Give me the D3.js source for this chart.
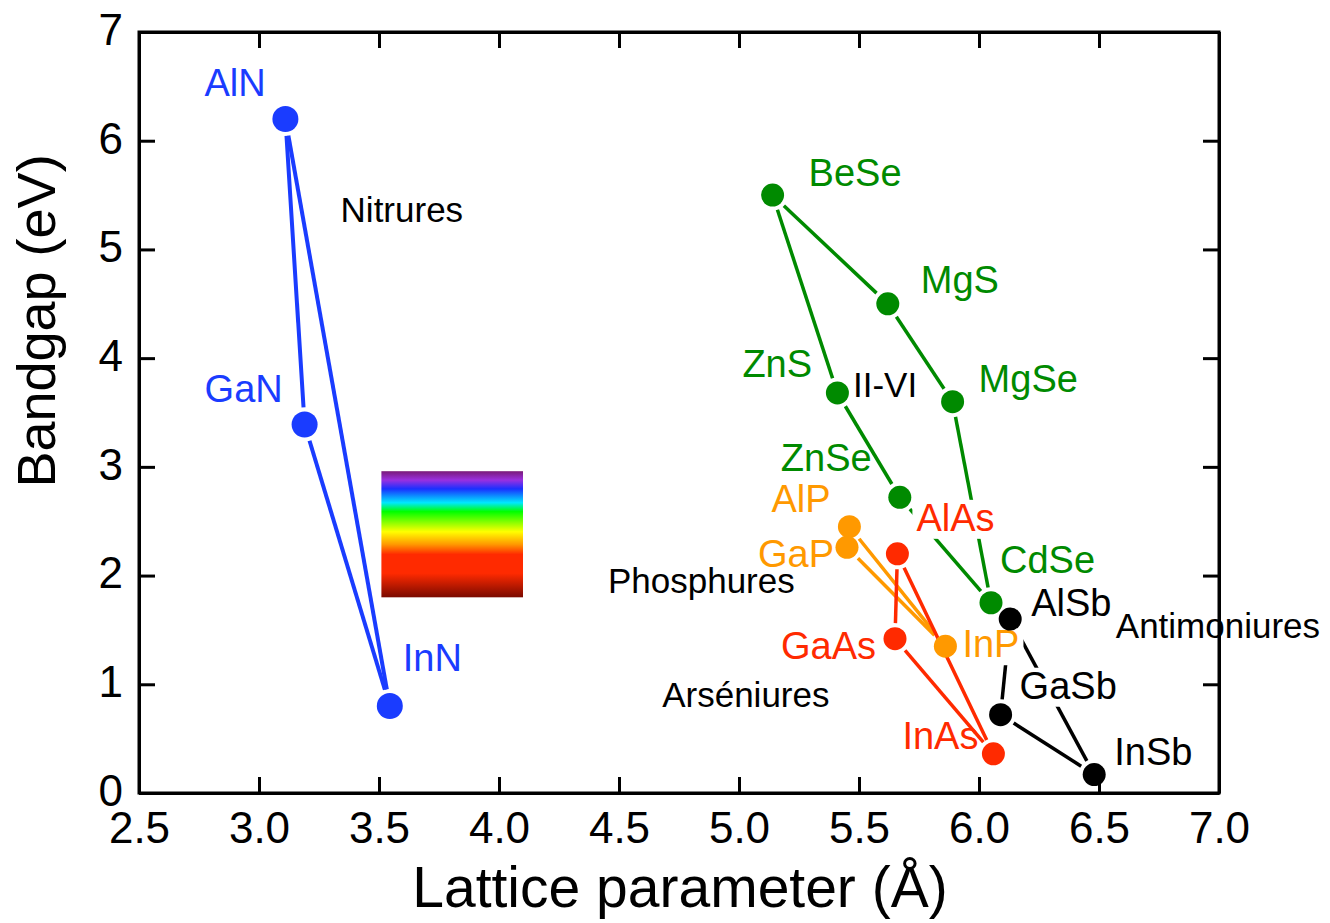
<!DOCTYPE html>
<html>
<head>
<meta charset="utf-8">
<script src="https://cdn.jsdelivr.net/npm/d3@7"></script>
<style>
body { margin: 0; background: #fff; }
text { font-family: "Liberation Sans", Arial, sans-serif; }
</style>
</head>
<body>
<div id="chart"></div>
<script>
// compounds: lattice parameter (A) and bandgap (eV)
var names   = ["AlN", "GaN", "InN", "BeSe", "MgS", "MgSe", "ZnS", "ZnSe", "CdSe", "AlP", "GaP", "InP", "AlAs", "GaAs", "InAs", "AlSb", "GaSb", "InSb"]
var lattice = [3.11, 3.19, 3.545, 5.14, 5.62, 5.89, 5.41, 5.67, 6.05, 5.46, 5.45, 5.86, 5.66, 5.65, 6.06, 6.13, 6.09, 6.48]
var gap     = [6.2, 3.39, 0.8, 5.5, 4.5, 3.6, 3.68, 2.72, 1.75, 2.45, 2.26, 1.35, 2.2, 1.42, 0.36, 1.6, 0.72, 0.17]
var family  = ["N", "N", "N", "VI", "VI", "VI", "VI", "VI", "VI", "P", "P", "P", "As", "As", "As", "Sb", "Sb", "Sb"]

// which compounds are joined by a line
var links = [
	["AlN", "GaN"], ["GaN", "InN"], ["AlN", "InN"],
	["BeSe", "MgS"], ["MgS", "MgSe"], ["MgSe", "CdSe"], ["BeSe", "ZnS"], ["ZnS", "ZnSe"], ["ZnSe", "CdSe"],
	["AlP", "InP"], ["GaP", "InP"],
	["AlAs", "GaAs"], ["AlAs", "InAs"], ["GaAs", "InAs"],
	["AlSb", "GaSb"], ["AlSb", "InSb"], ["GaSb", "InSb"]
]

// family names written on the plot (left x, baseline)
var groupNames = ["Nitrures", "II-VI", "Phosphures", "Arséniures", "Antimoniures"]
var groupAt    = [[3.34, 5.25], [5.475, 3.64], [4.454, 1.84], [4.68, 0.79], [6.57, 1.43]]

var xTicks = [2.5, 3.0, 3.5, 4.0, 4.5, 5.0, 5.5, 6.0, 6.5, 7.0]
var yTicks = [0, 1, 2, 3, 4, 5, 6, 7]

// visible light box (lattice range, energy range)
var specX = [3.51, 4.10]
var specY = [1.8, 2.96]

var colours = {N: "#1a3cff", VI: "#008a00", P: "#ff9900", As: "#ff2a00", Sb: "#000000"}

// label offsets in px from the marker (left x, baseline y)
var labelOff = {
	AlN: [-81, -23], GaN: [-100, -22], InN: [13, -35],
	BeSe: [36, -9], MgS: [33, -11], MgSe: [26, -10], ZnS: [-95, -16], ZnSe: [-119, -26], CdSe: [9, -30],
	AlP: [-78, -15], GaP: [-89, 20], InP: [17, 11],
	AlAs: [19, -23], GaAs: [-114, 20], InAs: [-91, -5],
	AlSb: [21, -3], GaSb: [19, -16], InSb: [20, -10]
}
var knock = {AlAs: true, GaSb: true, InP: true}

var w = 1330, h = 923
var m = {l: 139, r: 1219, t: 32, b: 793}

var svg = d3.select("#chart").append("svg")
	.attr("width", w)
	.attr("height", h)

var x = d3.scaleLinear().domain([2.5, 7.0]).range([m.l, m.r])
var y = d3.scaleLinear().domain([0, 7]).range([m.b, m.t])

var pts = names.map(function(n, i) {
	return {name: n, x: lattice[i], y: gap[i], fam: family[i]}
})
var byName = {}
pts.forEach(function(p) { byName[p.name] = p })

function rad(p) { return p.fam == "N" ? 13 : 11.5 }

// spectrum gradient
var defs = svg.append("defs")
var grad = defs.append("linearGradient")
	.attr("id", "spec")
	.attr("x1", 0).attr("y1", 0).attr("x2", 0).attr("y2", 1)
var stops = [[0, "#7a1a78"], [0.07, "#9a30e0"], [0.14, "#1a30ff"], [0.25, "#00e8ff"], [0.32, "#00ff00"],
	[0.48, "#ffff00"], [0.58, "#ff9900"], [0.66, "#ff2a00"], [0.81, "#ff2a00"], [1, "#7a0a00"]]
grad.selectAll("stop").data(stops).enter().append("stop")
	.attr("offset", function(d) { return d[0] })
	.attr("stop-color", function(d) { return d[1] })

svg.append("rect")
	.attr("x", x(specX[0]))
	.attr("y", y(specY[1]))
	.attr("width", x(specX[1]) - x(specX[0]))
	.attr("height", y(specY[0]) - y(specY[1]))
	.style("fill", "url(#spec)")

// lines, cut short near the markers
var lineG = svg.append("g")
lineG.selectAll("line")
	.data(links)
	.enter()
	.append("line")
	.each(function(d) {
		var a = byName[d[0]], b = byName[d[1]]
		var x1 = x(a.x), y1 = y(a.y), x2 = x(b.x), y2 = y(b.y)
		var len = Math.sqrt((x2 - x1) * (x2 - x1) + (y2 - y1) * (y2 - y1))
		var ux = (x2 - x1) / len, uy = (y2 - y1) / len
		var ga = rad(a) + 4, gb = rad(b) + 4
		d3.select(this)
			.attr("x1", x1 + ux * ga).attr("y1", y1 + uy * ga)
			.attr("x2", x2 - ux * gb).attr("y2", y2 - uy * gb)
			.style("stroke", colours[a.fam])
			.style("stroke-width", a.fam == "N" ? 4 : 3.5)
	})

// compound labels
var labG = svg.append("g")
pts.forEach(function(p) {
	var g = labG.append("g")
	var t = g.append("text")
		.attr("x", x(p.x) + labelOff[p.name][0])
		.attr("y", y(p.y) + labelOff[p.name][1])
		.style("font-size", "38px")
		.style("fill", colours[p.fam])
		.text(p.name)
	if (knock[p.name]) {
		var bb = t.node().getBBox()
		g.insert("rect", "text")
			.attr("x", bb.x - 4).attr("y", bb.y + 3)
			.attr("width", bb.width + 8).attr("height", bb.height - 3)
			.style("fill", "#fff")
	}
})

// family labels
svg.append("g").selectAll("text")
	.data(groupNames)
	.enter()
	.append("text")
	.attr("x", function(d, i) { return x(groupAt[i][0]) })
	.attr("y", function(d, i) { return y(groupAt[i][1]) })
	.style("font-size", "35px")
	.style("fill", "#000")
	.text(function(d) { return d })

// markers
svg.append("g").selectAll("circle")
	.data(pts)
	.enter()
	.append("circle")
	.attr("cx", function(d) { return x(d.x) })
	.attr("cy", function(d) { return y(d.y) })
	.attr("r", rad)
	.style("fill", function(d) { return colours[d.fam] })

// axes, ticks inside
var axB = svg.append("g").attr("transform", "translate(0," + m.b + ")")
	.call(d3.axisBottom(x).tickValues(xTicks).tickSizeInner(-16).tickSizeOuter(0).tickPadding(19)
		.tickFormat(d3.format(".1f")))
var axT = svg.append("g").attr("transform", "translate(0," + m.t + ")")
	.call(d3.axisTop(x).tickValues(xTicks).tickSizeInner(-16).tickSizeOuter(0).tickFormat(""))
var axL = svg.append("g").attr("transform", "translate(" + m.l + ",0)")
	.call(d3.axisLeft(y).tickValues(yTicks).tickSizeInner(-16).tickSizeOuter(0).tickPadding(16)
		.tickFormat(d3.format("d")))
var axR = svg.append("g").attr("transform", "translate(" + m.r + ",0)")
	.call(d3.axisRight(y).tickValues(yTicks).tickSizeInner(-16).tickSizeOuter(0).tickFormat(""))

;[axB, axT, axL, axR].forEach(function(a) {
	a.select(".domain").style("stroke", "#000").style("stroke-width", 3)
	a.selectAll(".tick line").style("stroke", "#000").style("stroke-width", 3)
	a.selectAll(".tick text")
		.style("font-family", "'Liberation Sans', Arial, sans-serif")
		.style("font-size", "44px")
		.style("fill", "#000")
})
axL.selectAll(".tick text").attr("dy", "0.28em")

// frame corners
svg.append("rect")
	.attr("x", m.l).attr("y", m.t)
	.attr("width", m.r - m.l).attr("height", m.b - m.t)
	.style("fill", "none")
	.style("stroke", "#000")
	.style("stroke-width", 3)

// axis titles
svg.append("text")
	.attr("x", (m.l + m.r) / 2 + 1)
	.attr("y", 907)
	.attr("text-anchor", "middle")
	.style("font-size", "57px")
	.text("Lattice parameter (Å)")

svg.append("text")
	.attr("transform", "translate(55,321) rotate(-90)")
	.attr("text-anchor", "middle")
	.style("font-size", "54px")
	.text("Bandgap (eV)")
</script>
</body>
</html>
